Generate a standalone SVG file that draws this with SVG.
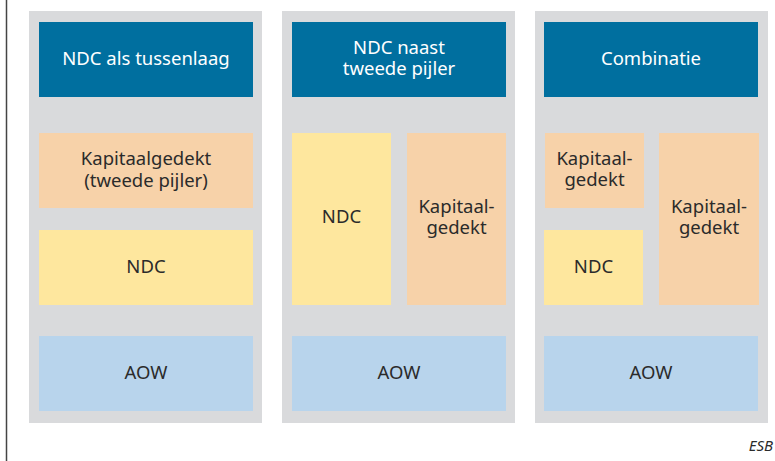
<svg xmlns="http://www.w3.org/2000/svg" width="775" height="461" viewBox="0 0 775 461">
<style>
.panel{fill:#d9dadc}
.head{fill:#006f9f}
.cap{fill:#f7d2a9}
.ndc{fill:#fee79e}
.aow{fill:#b8d4ec}
text{font-family:"Noto Sans","Open Sans",sans-serif;font-size:18.5px;text-anchor:middle}
.ht{fill:#ffffff}
.bt{fill:#2b2b2b}
</style>
<rect width="775" height="461" fill="#ffffff"/>
<line x1="6.5" y1="0" x2="6.5" y2="461" stroke="#444444" stroke-width="1.5"/>
<g id="panel1">
<rect class="panel" x="29" y="11" width="233" height="412"/>
<g id="head1"><rect class="head" x="39" y="22" width="214" height="75"/><text class="ht" x="146" y="65">NDC als tussenlaag</text></g>
<g id="cap1"><rect class="cap" x="39" y="133" width="214" height="75"/><text class="bt" x="146" y="165">Kapitaalgedekt</text><text class="bt" x="146" y="187">(tweede pijler)</text></g>
<g id="ndc1"><rect class="ndc" x="39" y="230" width="214" height="75"/><text class="bt" x="146" y="273">NDC</text></g>
<g id="aow1"><rect class="aow" x="39" y="336" width="214" height="75"/><text class="bt" x="146" y="379">AOW</text></g>
</g>
<g id="panel2">
<rect class="panel" x="282" y="11" width="233" height="412"/>
<g id="head2"><rect class="head" x="292" y="22" width="214" height="75"/><text class="ht" x="399" y="54">NDC naast</text><text class="ht" x="399" y="75">tweede pijler</text></g>
<g id="ndc2"><rect class="ndc" x="292" y="133" width="99" height="172"/><text class="bt" x="341.5" y="223">NDC</text></g>
<g id="cap2"><rect class="cap" x="407" y="133" width="99" height="172"/><text class="bt" x="456.5" y="213">Kapitaal-</text><text class="bt" x="456.5" y="234">gedekt</text></g>
<g id="aow2"><rect class="aow" x="292" y="336" width="214" height="75"/><text class="bt" x="399" y="379">AOW</text></g>
</g>
<g id="panel3">
<rect class="panel" x="535" y="11" width="233" height="412"/>
<g id="head3"><rect class="head" x="544" y="22" width="214" height="75"/><text class="ht" x="651" y="65">Combinatie</text></g>
<g id="cap3a"><rect class="cap" x="545" y="133" width="99" height="75"/><text class="bt" x="594.5" y="165">Kapitaal-</text><text class="bt" x="594.5" y="186">gedekt</text></g>
<g id="ndc3"><rect class="ndc" x="544" y="230" width="99" height="75"/><text class="bt" x="593.5" y="273">NDC</text></g>
<g id="cap3b"><rect class="cap" x="659" y="133" width="100" height="172"/><text class="bt" x="709" y="213">Kapitaal-</text><text class="bt" x="709" y="234">gedekt</text></g>
<g id="aow3"><rect class="aow" x="544" y="336" width="214" height="75"/><text class="bt" x="651" y="379">AOW</text></g>
</g>
<g id="connectors"/>
<text x="773" y="451" style="font-size:15px;font-style:italic;text-anchor:end;fill:#2b2b2b">ESB</text>
</svg>
